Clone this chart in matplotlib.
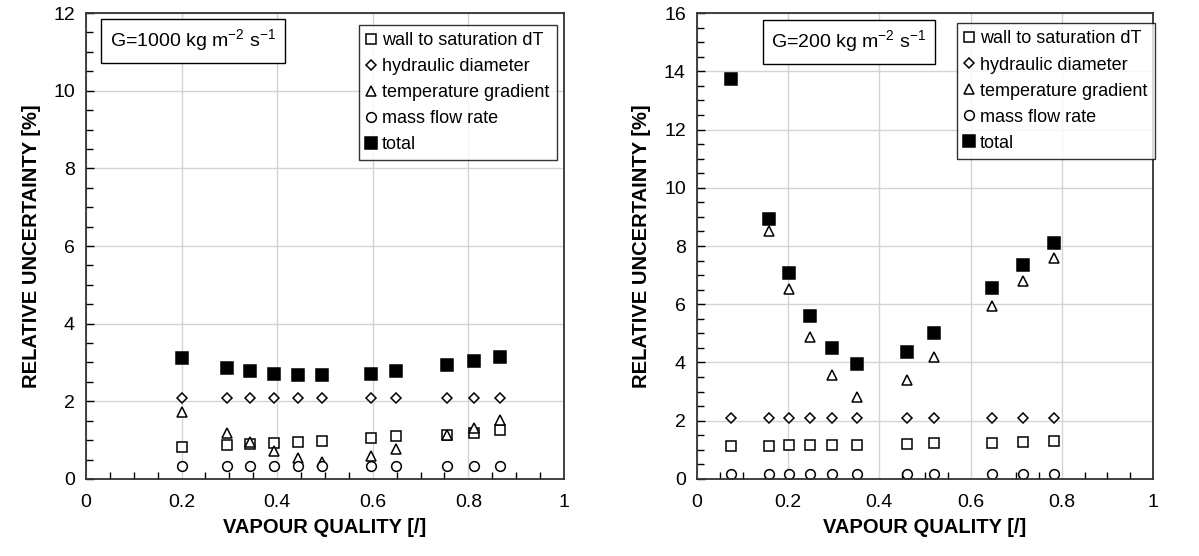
import matplotlib
matplotlib.use("Agg")
import matplotlib.pyplot as plt
import numpy as np
from matplotlib.ticker import MultipleLocator

plt.rcParams["font.family"] = ["Liberation Sans", "DejaVu Sans"]

# G = 1000 kg m-2 s-1
x_1000 = [0.201, 0.296, 0.344, 0.393, 0.443, 0.493, 0.596, 0.649, 0.756, 0.811, 0.867]
wall_1000 = [0.82, 0.87, 0.89, 0.93, 0.95, 0.97, 1.06, 1.10, 1.14, 1.19, 1.25]
hyd_1000 = [2.09, 2.09, 2.09, 2.09, 2.09, 2.09, 2.09, 2.09, 2.09, 2.09, 2.09]
grad_1000 = [1.73, 1.19, 0.94, 0.72, 0.55, 0.45, 0.58, 0.76, 1.14, 1.32, 1.52]
mass_1000 = [0.33] * 11
total_1000 = [3.12, 2.86, 2.77, 2.71, 2.68, 2.68, 2.71, 2.79, 2.93, 3.03, 3.15]

# G = 200 kg m-2 s-1
x_200 = [0.075, 0.157, 0.202, 0.248, 0.297, 0.350, 0.460, 0.519, 0.646, 0.714, 0.782]
wall_200 = [1.15, 1.15, 1.16, 1.17, 1.18, 1.18, 1.21, 1.23, 1.24, 1.26, 1.29]
hyd_200 = [2.11] * 11
grad_200 = [np.nan, 8.50, 6.51, 4.86, 3.57, 2.83, 3.39, 4.20, 5.95, 6.81, 7.59]
mass_200 = [0.18] * 11
total_200 = [13.73, 8.94, 7.08, 5.58, 4.50, 3.94, 4.36, 5.01, 6.57, 7.35, 8.11]

labels = ["wall to saturation dT", "hydraulic diameter", "temperature gradient",
          "mass flow rate", "total"]


def panel(ax, x, series, ymax, ymin_step, title, title_pos, leg_anchor):
    styles = [
        dict(marker="s", ms=7.0, mfc="white"),
        dict(marker="D", ms=5.2, mfc="white"),
        dict(marker="^", ms=7.0, mfc="white"),
        dict(marker="o", ms=7.0, mfc="white"),
        dict(marker="s", ms=8.5, mfc="black"),
    ]
    for ys, st, lab in zip(series, styles, labels):
        ax.plot(x, ys, ls="none", mec="black", mew=1.1, label=lab, **st)

    ax.set_xlim(0, 1)
    ax.set_ylim(0, ymax)
    ax.xaxis.set_major_locator(MultipleLocator(0.2))
    ax.xaxis.set_minor_locator(MultipleLocator(0.05))
    ax.yaxis.set_major_locator(MultipleLocator(2))
    ax.yaxis.set_minor_locator(MultipleLocator(ymin_step))
    ax.xaxis.set_major_formatter(plt.FuncFormatter(lambda v, p: f"{v:g}"))
    ax.grid(True, which="major", color="#d4d4d4", lw=1.0)
    ax.set_axisbelow(True)
    ax.tick_params(which="both", direction="in", top=False, right=False,
                   labelsize=14, width=1.0, color="black")
    ax.tick_params(which="major", length=6, pad=8)
    ax.tick_params(which="minor", length=5)
    ax.tick_params(axis="x", which="major", length=0, pad=11)
    for s in ax.spines.values():
        s.set_linewidth(1.3)
        s.set_color("#333333")

    ax.set_xlabel("VAPOUR QUALITY [/]", fontsize=14.5, fontweight="bold", labelpad=5)
    ax.set_ylabel("RELATIVE UNCERTAINTY [%]", fontsize=14.5, fontweight="bold", labelpad=9)

    ax.text(*title_pos, title, transform=ax.transAxes, fontsize=14, ha="left", va="center",
            bbox=dict(boxstyle="square,pad=0.45", fc="white", ec="black", lw=1.0))

    leg = ax.legend(loc="upper right", bbox_to_anchor=leg_anchor, fontsize=13,
                    frameon=True, fancybox=False, edgecolor="black", handlelength=0.6,
                    handletextpad=0.3, borderpad=0.4, labelspacing=0.5,
                    borderaxespad=0.0, numpoints=1)
    leg.get_frame().set_linewidth(1.0)


fig = plt.figure(figsize=(11.99, 5.56), dpi=100)
ax1 = fig.add_axes([0.0717, 0.1385, 0.3987, 0.8381])
ax2 = fig.add_axes([0.5813, 0.1385, 0.3803, 0.8381])

panel(ax1, x_1000, [wall_1000, hyd_1000, grad_1000, mass_1000, total_1000], 12, 0.5,
      r"G=1000 kg m$^{\mathregular{-2}}$ s$^{\mathregular{-1}}$", (0.05, 0.940), (0.985, 0.975))
panel(ax2, x_200, [wall_200, hyd_200, grad_200, mass_200, total_200], 16, 0.5,
      r"G=200 kg m$^{\mathregular{-2}}$ s$^{\mathregular{-1}}$", (0.163, 0.938), (1.004, 0.978))

fig.savefig("out.png", dpi=100, facecolor="white")
